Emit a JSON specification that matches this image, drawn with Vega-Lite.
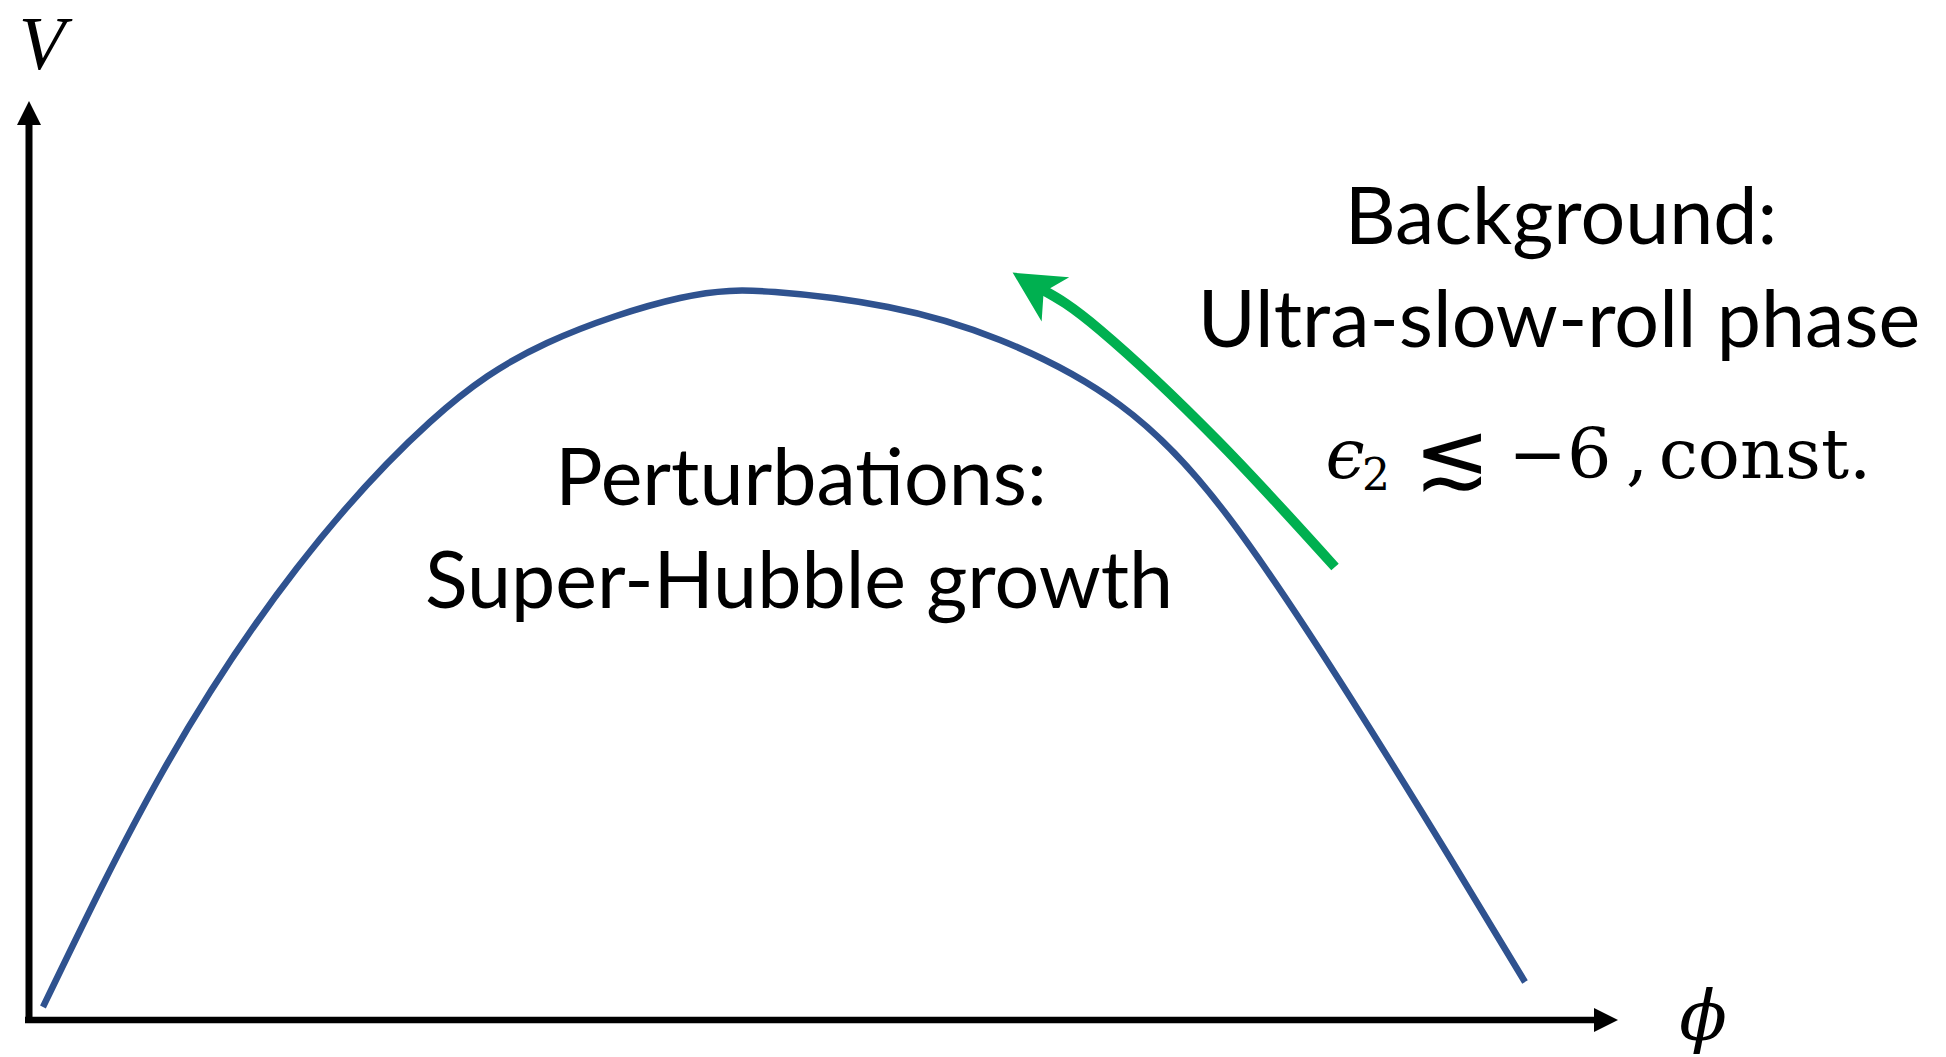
{
  "$schema": "https://vega.github.io/schema/vega-lite/v6.json",
  "width": 1946,
  "height": 1057,
  "autosize": {"type": "fit", "contains": "padding"},
  "padding": 0,
  "background": "white",
  "config": {"view": {"stroke": null}},
  "datasets": {
    "curve": [
      {"phi": 0.14, "V": 0.13}, {"phi": 1.34, "V": 2.49}, {"phi": 2.68, "V": 4.52},
      {"phi": 4.01, "V": 5.98}, {"phi": 5.18, "V": 6.77}, {"phi": 6.51, "V": 7.22},
      {"phi": 7.46, "V": 7.28}, {"phi": 8.59, "V": 7.13}, {"phi": 9.71, "V": 6.80},
      {"phi": 10.91, "V": 6.15}, {"phi": 12.01, "V": 5.01}, {"phi": 13.21, "V": 3.23},
      {"phi": 14.21, "V": 1.62}, {"phi": 14.96, "V": 0.38}
    ],
    "flow": [
      {"phi": 10.14, "V": 7.30}, {"phi": 10.71, "V": 6.90},
      {"phi": 11.88, "V": 5.80}, {"phi": 13.06, "V": 4.53}
    ],
    "flowHead": [{"phi": 10.05, "V": 7.34}],
    "vAxis": [{"phi": 0, "V": -0.03, "V2": 9.0}],
    "hAxis": [{"phi": -0.04, "phi2": 15.7, "V": 0}],
    "vHead": [{"phi": 0, "V": 9.07}],
    "hHead": [{"phi": 15.77, "V": 0}],
    "labels": [
      {"phi": 7.72, "V": 5.15, "label": "Perturbations:"},
      {"phi": 7.70, "V": 4.12, "label": "Super-Hubble growth"},
      {"phi": 15.32, "V": 7.76, "label": "Background:"},
      {"phi": 15.30, "V": 6.73, "label": "Ultra-slow-roll phase"}
    ],
    "vLabel": [{"phi": 0.13, "V": 9.51, "label": "V"}],
    "phiLabel": [{"phi": 16.74, "V": -0.20, "label": "ϕ"}],
    "epsLabel": [{"phi": 13.16, "V": 5.42, "label": "ϵ"}],
    "subLabel": [{"phi": 13.47, "V": 5.30, "label": "2"}],
    "relLabel": [{"phi": 14.23, "V": 5.33, "label": "≲"}],
    "mathLabel": [
      {"phi": 15.31, "V": 5.42, "label": "−6"},
      {"phi": 16.08, "V": 5.42, "label": ","},
      {"phi": 17.36, "V": 5.42, "label": "const."}
    ]
  },
  "encoding": {
    "x": {"field": "phi", "type": "quantitative", "scale": {"domain": [-0.29, 19.17], "nice": false, "zero": false}, "axis": null},
    "y": {"field": "V", "type": "quantitative", "scale": {"domain": [-0.37, 10.20], "nice": false, "zero": false}, "axis": null}
  },
  "layer": [
    {
      "data": {"name": "vAxis"},
      "mark": {"type": "rule", "color": "black", "strokeWidth": 7, "strokeCap": "butt"},
      "encoding": {"y2": {"field": "V2"}}
    },
    {
      "data": {"name": "hAxis"},
      "mark": {"type": "rule", "color": "black", "strokeWidth": 6.5, "strokeCap": "butt"},
      "encoding": {"x2": {"field": "phi2"}}
    },
    {
      "data": {"name": "vHead"},
      "mark": {"type": "point", "shape": "M1,0L-1,-1L-1,1Z", "size": 576, "angle": 270, "filled": true, "color": "black", "opacity": 1, "strokeWidth": 0}
    },
    {
      "data": {"name": "hHead"},
      "mark": {"type": "point", "shape": "M1,0L-1,-1L-1,1Z", "size": 576, "angle": 0, "filled": true, "color": "black", "opacity": 1, "strokeWidth": 0}
    },
    {
      "data": {"name": "curve"},
      "mark": {"type": "line", "interpolate": "natural", "color": "#2F528F", "strokeWidth": 6.5, "strokeCap": "butt"}
    },
    {
      "data": {"name": "flow"},
      "mark": {"type": "line", "interpolate": "natural", "color": "#00B050", "strokeWidth": 10, "strokeCap": "butt"}
    },
    {
      "data": {"name": "flowHead"},
      "mark": {"type": "point", "shape": "M1,0L-1,-1.03L-0.45,0L-1,1.03Z", "size": 2550, "angle": 212, "filled": true, "color": "#00B050", "opacity": 1, "strokeWidth": 0}
    },
    {
      "data": {"name": "labels"},
      "mark": {"type": "text", "font": "Lato", "fontSize": 79, "align": "center", "baseline": "alphabetic", "color": "black"},
      "encoding": {"text": {"field": "label"}}
    },
    {
      "data": {"name": "vLabel"},
      "mark": {"type": "text", "font": "Liberation Serif", "fontStyle": "italic", "fontSize": 76, "align": "center", "baseline": "alphabetic", "color": "black"},
      "encoding": {"text": {"field": "label"}}
    },
    {
      "data": {"name": "phiLabel"},
      "mark": {"type": "text", "font": "DejaVu Serif", "fontStyle": "italic", "fontSize": 70, "align": "center", "baseline": "alphabetic", "color": "black"},
      "encoding": {"text": {"field": "label"}}
    },
    {
      "data": {"name": "epsLabel"},
      "mark": {"type": "text", "font": "DejaVu Serif", "fontStyle": "italic", "fontSize": 70, "align": "center", "baseline": "alphabetic", "color": "black"},
      "encoding": {"text": {"field": "label"}}
    },
    {
      "data": {"name": "subLabel"},
      "mark": {"type": "text", "font": "DejaVu Serif", "fontSize": 44, "align": "center", "baseline": "alphabetic", "color": "black"},
      "encoding": {"text": {"field": "label"}}
    },
    {
      "data": {"name": "relLabel"},
      "mark": {"type": "text", "font": "DejaVu Sans", "fontSize": 92, "align": "center", "baseline": "alphabetic", "color": "black"},
      "encoding": {"text": {"field": "label"}}
    },
    {
      "data": {"name": "mathLabel"},
      "mark": {"type": "text", "font": "DejaVu Serif", "fontSize": 70, "align": "center", "baseline": "alphabetic", "color": "black"},
      "encoding": {"text": {"field": "label"}}
    }
  ]
}
